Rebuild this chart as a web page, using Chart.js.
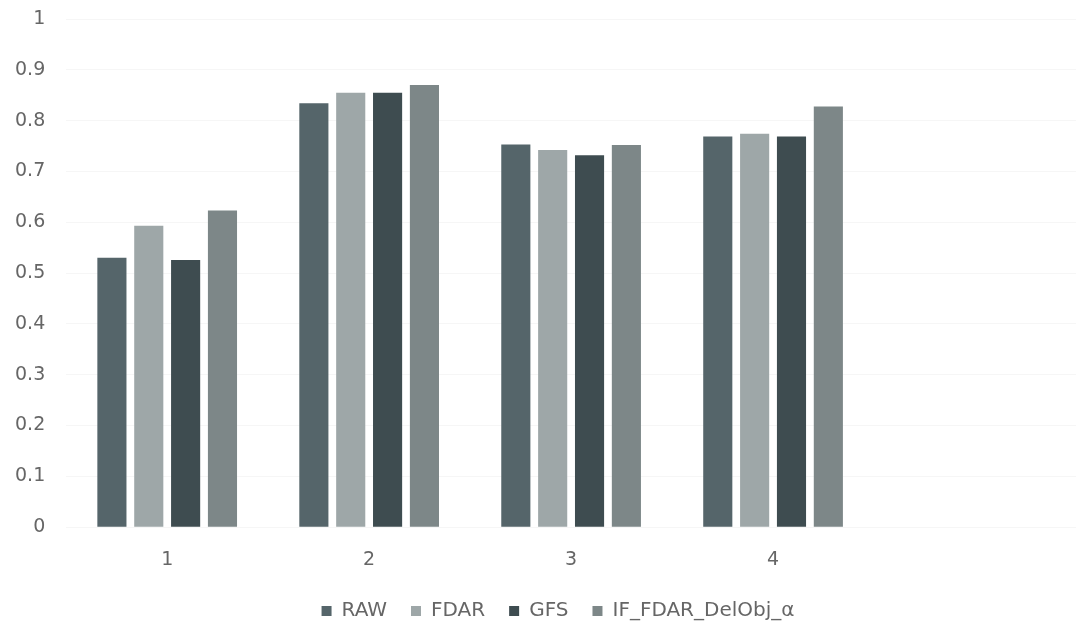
<!DOCTYPE html>
<html>
<head>
<meta charset="utf-8">
<script src="https://cdn.jsdelivr.net/npm/chart.js@4/dist/chart.umd.min.js"></script>
<style>
  html, body { margin: 0; padding: 0; background: #fff; }
  #wrap { width: 1076px; height: 625px; }
</style>
</head>
<body>
<div id="wrap"><canvas id="chart"></canvas></div>
<script>
// data
const categories = ["1", "2", "3", "4", ""];
const rawValues = [0.530, 0.834, 0.753, 0.769, null];
const fdarValues = [0.593, 0.855, 0.742, 0.774, null];
const gfsValues = [0.526, 0.855, 0.732, 0.769, null];
const ifValues = [0.623, 0.870, 0.752, 0.828, null];
const seriesNames = ["RAW", "FDAR", "GFS", "IF_FDAR_DelObj_\u03b1"];
const seriesColors = ["#55656a", "#9ea7a8", "#3e4c50", "#7d8788"];

const ctx = document.getElementById("chart").getContext("2d");

const allSeries = [rawValues, fdarValues, gfsValues, ifValues];
const tickFont = { family: "DejaVu Sans", size: 19, weight: "normal" };

// legend in the original sits a little right of centre
const legendShift = {
  id: "legendShift",
  afterUpdate(chart) {
    chart.legend.left += 20;
    chart.legend.right += 20;
  },
};

new Chart(ctx, {
  type: "bar",
  data: {
    labels: categories,
    datasets: allSeries.map((vals, i) => ({
      label: seriesNames[i],
      data: vals,
      backgroundColor: seriesColors[i],
      categoryPercentage: 0.73,
      barPercentage: 0.79,
    })),
  },
  options: {
    responsive: true,
    maintainAspectRatio: false,
    animation: false,
    layout: { padding: { top: 0, left: -6, right: -6, bottom: -6 } },
    plugins: {
      tooltip: { enabled: false },
      legend: {
        position: "bottom",
        labels: {
          boxWidth: 10,
          boxHeight: 10,
          padding: 24,
          color: "#666",
          font: { family: "DejaVu Sans", size: 20, weight: "normal" },
        },
      },
    },
    scales: {
      x: {
        grid: { display: false },
        border: { display: false },
        afterFit: (scale) => {
          scale.height -= 7;
        },
        ticks: {
          color: "#666",
          padding: 13,
          font: tickFont,
        },
      },
      y: {
        min: 0,
        max: 1,
        // tick padding also pads top, trim it back
        afterFit: (scale) => {
          scale.paddingTop = 19;
        },
        ticks: {
          stepSize: 0.1,
          color: "#666",
          padding: 21,
          font: tickFont,
          callback: (v) => (Math.round(v * 10) / 10).toString(),
        },
        grid: { color: "rgba(0,0,0,0.035)", drawTicks: false },
        border: { display: false },
      },
    },
  },
  plugins: [legendShift],
});
</script>
</body>
</html>
